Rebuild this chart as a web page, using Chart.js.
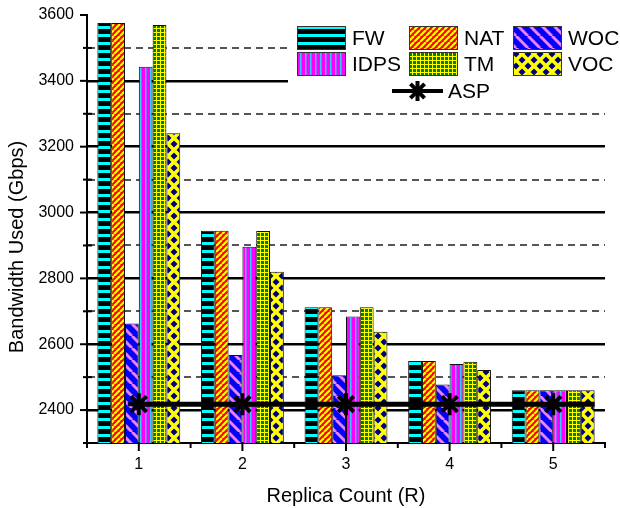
<!DOCTYPE html>
<html>
<head>
<meta charset="utf-8">
<script src="https://cdn.jsdelivr.net/npm/chart.js@4.4.0/dist/chart.umd.min.js"></script>
<style>
  html, body { margin: 0; padding: 0; background: #fff; }
  canvas { display: block; }
</style>
</head>
<body>
<canvas id="chart" width="620" height="508"></canvas>
<script>
const replicas = ['1', '2', '3', '4', '5'];
const fw   = [3576, 2945, 2712, 2549, 2460];
const nat  = [3576, 2945, 2712, 2549, 2460];
const woc  = [2663, 2567, 2506, 2478, 2460];
const idps = [3443, 2896, 2684, 2540, 2460];
const tm   = [3570, 2944, 2712, 2547, 2460];
const voc  = [3241, 2820, 2638, 2522, 2460];
const asp  = [2418, 2418, 2418, 2418, 2418];
const yTickLabels = [2400, 2600, 2800, 3000, 3200, 3400, 3600];

const FONT = "'Liberation Sans', Arial, sans-serif";
const canvas = document.getElementById('chart');
const ctx = canvas.getContext('2d');

// hatch fills, drawn on a small tile and repeated
function pattern(w, h, bg, draw) {
  const c = document.createElement('canvas');
  c.width = w; c.height = h;
  const g = c.getContext('2d');
  g.fillStyle = bg;
  g.fillRect(0, 0, w, h);
  draw(g, w, h);
  return ctx.createPattern(c, 'repeat');
}
function diag(g, w, h, up) {
  for (const k of [-w, 0, w]) {
    g.beginPath();
    if (up) { g.moveTo(k, h); g.lineTo(k + w, 0); }
    else { g.moveTo(k, 0); g.lineTo(k + w, h); }
    g.stroke();
  }
}

const fills = {
  FW: pattern(8, 8, '#000', g => { g.fillStyle = '#00ffff'; g.fillRect(0, 2, 8, 3); }),
  NAT: pattern(6, 6, '#ff0000', (g, w, h) => { g.strokeStyle = '#ffff00'; g.lineWidth = 2.2; diag(g, w, h, true); }),
  WOC: pattern(12, 12, '#0000ff', (g, w, h) => { g.strokeStyle = '#f080f0'; g.lineWidth = 3; diag(g, w, h, false); }),
  IDPS: pattern(5, 5, '#ff00ff', g => { g.fillStyle = '#33ccff'; g.fillRect(0, 0, 1.5, 5); }),
  TM: pattern(4, 4, '#008000', g => { g.fillStyle = '#ffff00'; g.fillRect(0, 0, 4, 1); g.fillRect(0, 0, 1, 4); }),
  VOC: pattern(12, 12, '#000080', (g, w, h) => { g.strokeStyle = '#ffff00'; g.lineWidth = 3.5; diag(g, w, h, true); diag(g, w, h, false); })
};

const series = [['FW', fw], ['NAT', nat], ['WOC', woc], ['IDPS', idps], ['TM', tm], ['VOC', voc]];
const datasets = series.map(([name, data]) => ({
  label: name,
  data,
  backgroundColor: fills[name],
  borderColor: '#111',
  borderWidth: 1,
  barPercentage: 1,
  categoryPercentage: 0.8,
  order: 1
}));
datasets.push({
  type: 'line',
  label: 'ASP',
  data: asp,
  borderColor: '#000',
  borderWidth: 5,
  pointStyle: 'star',
  pointRadius: 11,
  pointBorderWidth: 4,
  pointBorderColor: '#000',
  pointBackgroundColor: '#000',
  fill: false,
  order: 0
});

function line(g, x1, y1, x2, y2) {
  g.beginPath(); g.moveTo(x1, y1); g.lineTo(x2, y2); g.stroke();
}
function star(g, x, y, r) {
  line(g, x - r, y, x + r, y);
  line(g, x, y - r, x, y + r);
  const d = r * Math.SQRT1_2;
  line(g, x - d, y - d, x + d, y + d);
  line(g, x - d, y + d, x + d, y - d);
}

const extras = {
  id: 'extras',
  afterDatasetsDraw(chart) {
    // ASP line runs on to the end of the last bar group
    const g = chart.ctx;
    const meta = chart.getDatasetMeta(datasets.length - 1);
    const last = meta.data[meta.data.length - 1];
    const x2 = chart.scales.x.getPixelForValue(meta.data.length - 1 + 0.4);
    g.save();
    g.strokeStyle = '#000';
    g.lineWidth = 5;
    line(g, last.x, last.y, x2, last.y);
    g.restore();
  },
  afterDraw(chart) {
    const g = chart.ctx;
    const a = chart.chartArea;
    const { x, y } = chart.scales;
    g.save();
    g.strokeStyle = '#000';
    g.lineWidth = 2;
    y.ticks.forEach(t => {
      const py = y.getPixelForValue(t.value);
      if (t.value % 200 === 0) line(g, a.left - 7, py, a.left, py);
      else line(g, a.left - 4, py, a.left + 5, py);
    });
    replicas.forEach((r, i) => {
      const px = x.getPixelForValue(i);
      line(g, px, a.bottom, px, a.bottom + 8);
    });
    for (let i = 0; i <= replicas.length; i++) {
      const px = x.getPixelForValue(i - 0.5);
      line(g, px, a.bottom, px, a.bottom + 5);
    }

    // y title, sits a little below the middle of the axis like the original
    g.save();
    g.translate(17.5, 247);
    g.rotate(-Math.PI / 2);
    g.fillStyle = '#000';
    g.font = '20px ' + FONT;
    g.textAlign = 'center';
    g.textBaseline = 'middle';
    g.fillText('Bandwidth Used (Gbps)', 0, 0);
    g.restore();

    // legend inside the plot
    g.fillStyle = '#fff';
    g.fillRect(288, 18, 332, 87);
    const cols = [297, 409, 513];
    const rows = [26, 52];
    g.font = '21px ' + FONT;
    g.textBaseline = 'middle';
    g.textAlign = 'left';
    series.forEach(([name], i) => {
      const bx = cols[i % 3], by = rows[Math.floor(i / 3)];
      g.fillStyle = fills[name];
      g.fillRect(bx, by, 48, 23);
      g.strokeStyle = '#333';
      g.lineWidth = 1;
      g.strokeRect(bx + 0.5, by + 0.5, 48, 23);
      g.fillStyle = '#000';
      g.fillText(name, bx + 55, by + 13);
    });
    g.strokeStyle = '#000';
    g.lineWidth = 4;
    line(g, 392, 91, 443, 91);
    star(g, 417.5, 91, 10);
    g.fillStyle = '#000';
    g.fillText('ASP', 448, 92);
    g.restore();
  }
};

new Chart(ctx, {
  type: 'bar',
  data: { labels: replicas, datasets },
  options: {
    responsive: false,
    animation: false,
    devicePixelRatio: 1,
    layout: { padding: { left: 0, right: 6, top: 15, bottom: 0 } },
    plugins: { legend: { display: false }, tooltip: { enabled: false } },
    scales: {
      x: {
        offset: true,
        grid: { display: false, drawTicks: false },
        border: { display: true, color: '#000', width: 2 },
        ticks: { color: '#000', font: { family: FONT, size: 16 }, padding: 12, maxRotation: 0 },
        title: { display: true, text: 'Replica Count (R)', color: '#000', font: { family: FONT, size: 20 }, padding: { top: 0, bottom: 0 } },
        afterFit: s => { s.height = 65; s.paddingLeft = 0; s.paddingRight = 0; }
      },
      y: {
        min: 2300,
        max: 3600,
        ticks: {
          stepSize: 100,
          autoSkip: false,
          color: '#000',
          font: { family: FONT, size: 16 },
          padding: 13,
          callback: v => yTickLabels.includes(v) ? v : ''
        },
        grid: {
          drawTicks: false,
          color: c => {
            const v = c.tick ? c.tick.value : 0;
            if (v === 3600 || v === 2300) return 'rgba(0,0,0,0)';
            return v % 200 === 0 ? '#000' : '#555';
          },
          lineWidth: c => (c.tick && c.tick.value % 200 === 0) ? 2.5 : 2
        },
        border: {
          display: true,
          color: '#000',
          width: 2,
          dash: c => (c.tick && c.tick.value % 200 !== 0) ? [7, 5] : []
        },
        title: { display: false },
        afterFit: s => { s.width = 87; s.paddingTop = 0; s.paddingBottom = 0; }
      }
    }
  },
  plugins: [extras]
});
</script>
</body>
</html>
